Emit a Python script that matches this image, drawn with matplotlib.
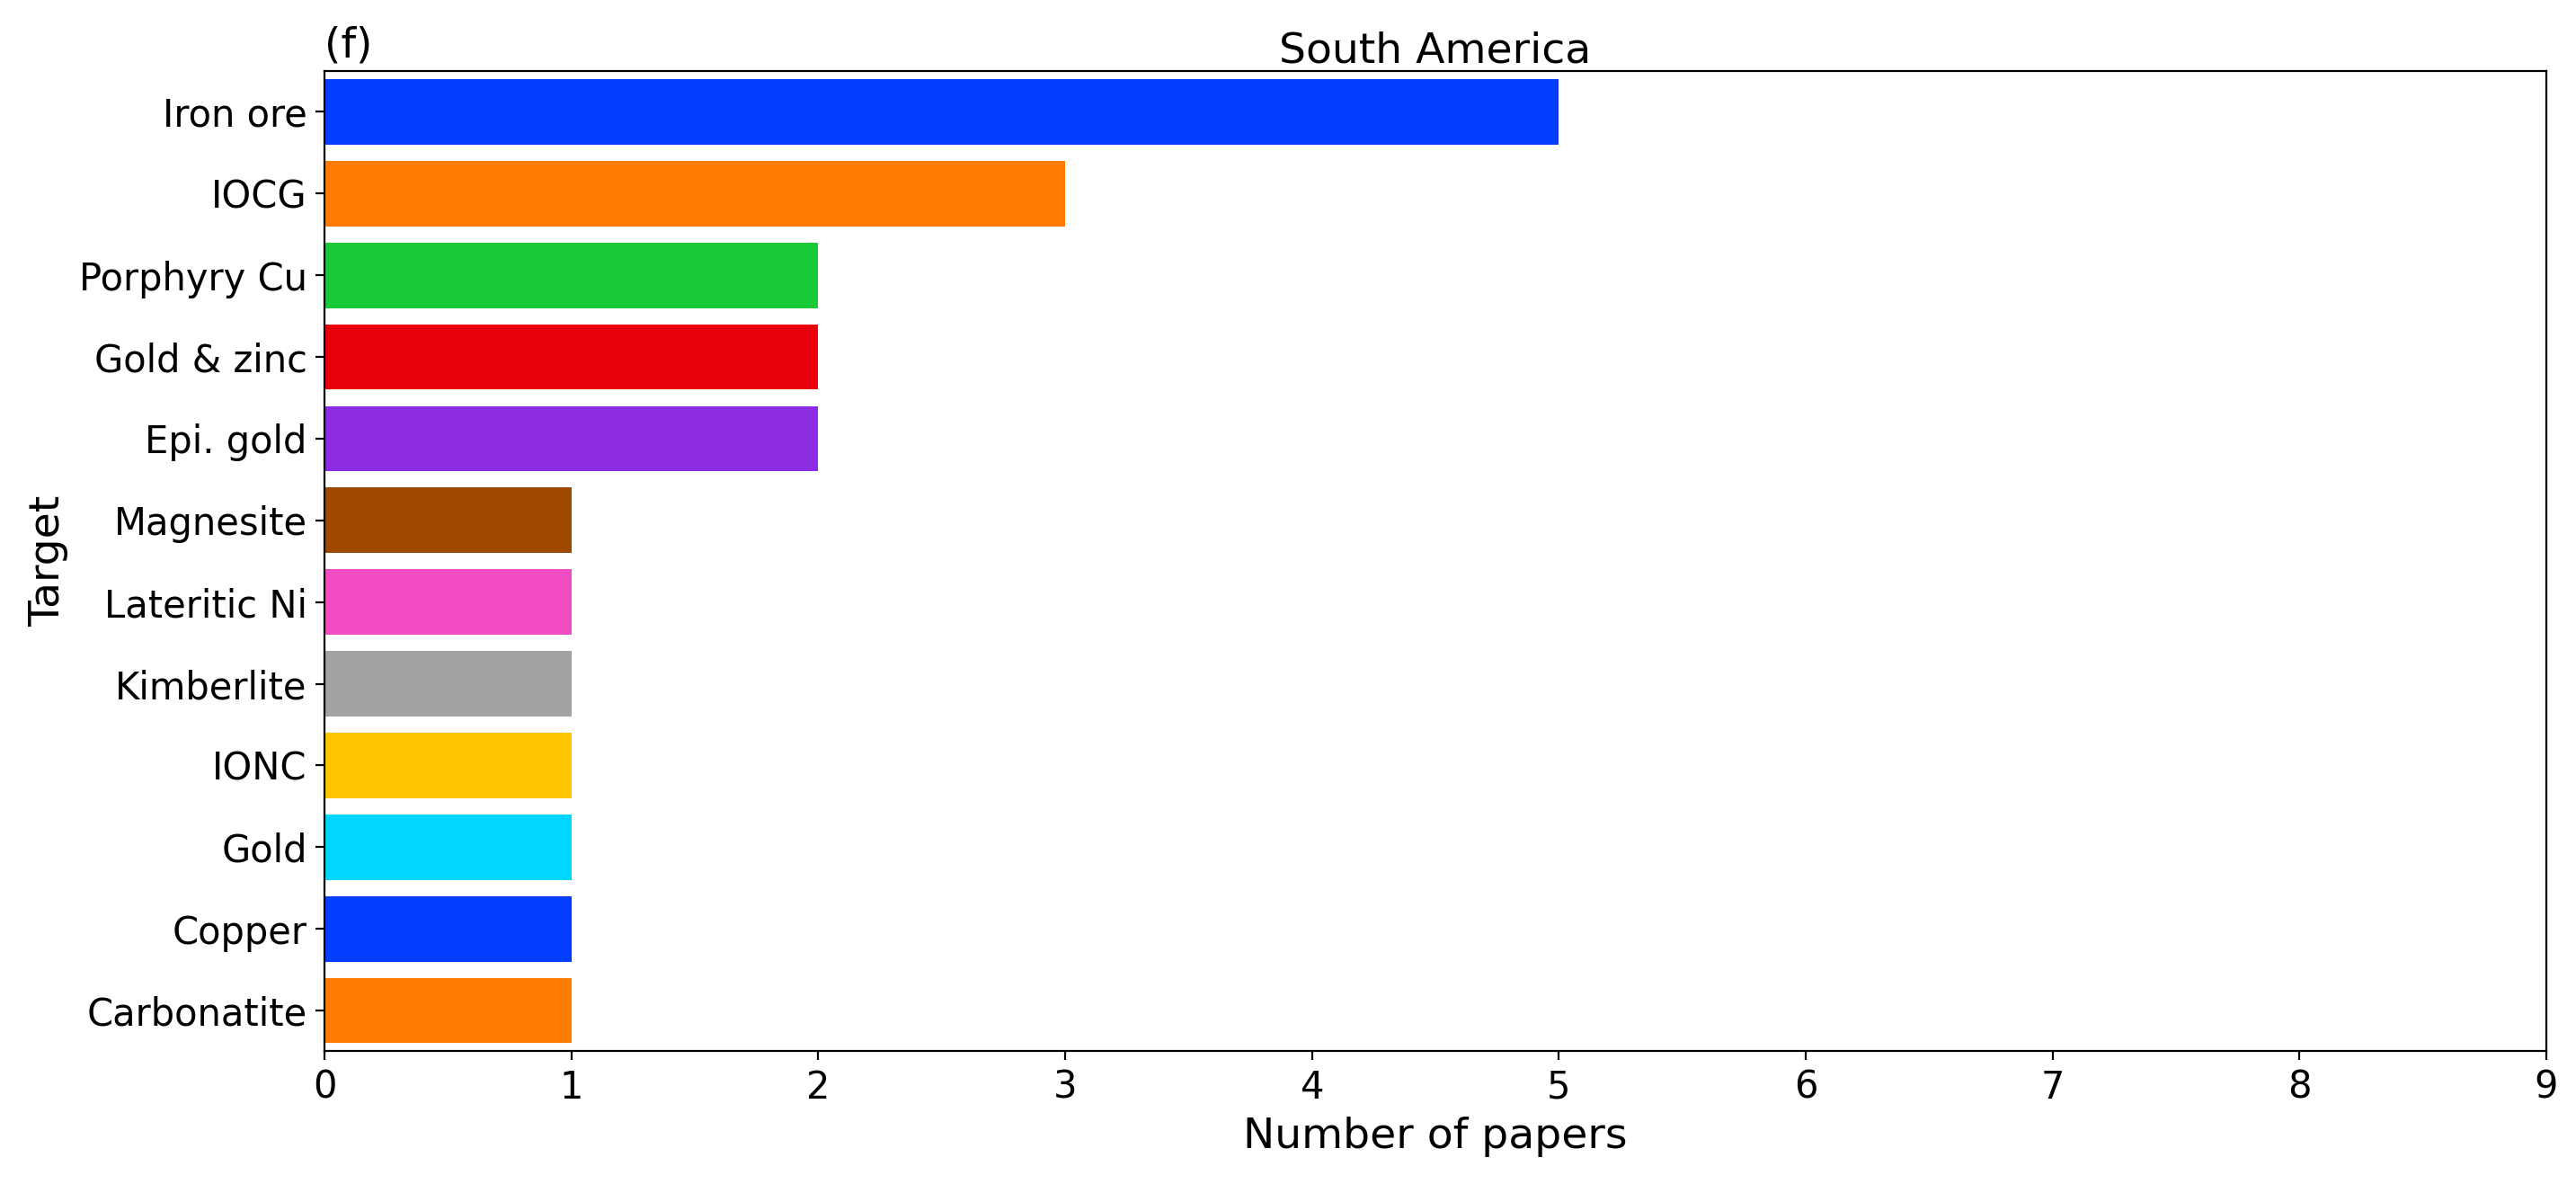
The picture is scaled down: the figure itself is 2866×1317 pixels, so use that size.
import matplotlib
matplotlib.use("Agg")
import matplotlib.pyplot as plt
import seaborn as sns

targets = ['Iron ore', 'IOCG', 'Porphyry Cu', 'Gold & zinc', 'Epi. gold', 'Magnesite',
           'Lateritic Ni', 'Kimberlite', 'IONC', 'Gold', 'Copper', 'Carbonatite']
papers = [5, 3, 2, 2, 2, 1, 1, 1, 1, 1, 1, 1]

palette = sns.color_palette('bright', 10)
colors = [palette[i % 10] for i in range(len(targets))]

fig = plt.figure(figsize=(14.33, 6.585), dpi=200)
ax = fig.add_axes([0.126, 0.112, 0.8625, 0.828])
ax.barh(range(len(targets)), papers, height=0.8, color=colors)
ax.set_yticks(range(len(targets)))
ax.set_yticklabels(targets)
ax.set_ylim(len(targets) - 0.5, -0.5)
ax.set_xlim(0, 9)
ax.set_xticks(range(10))
ax.tick_params(labelsize=15)
ax.set_xlabel('Number of papers', fontsize=17)
ax.set_ylabel('Target', fontsize=17)
ax.set_title('South America', fontsize=17, pad=3)
ax.text(0, 1.005, '(f)', transform=ax.transAxes, fontsize=17, va='bottom')

fig.savefig('out.png', dpi=200)
